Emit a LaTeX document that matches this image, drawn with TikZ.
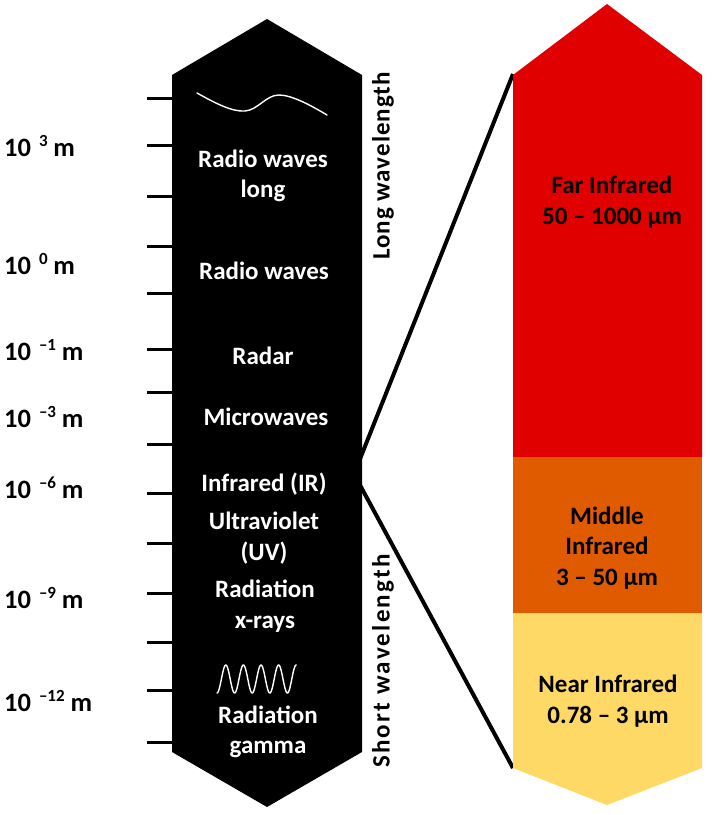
\documentclass[tikz,border=0pt]{standalone}
\usepackage{fontspec}
\setmainfont{Carlito}
\definecolor{farred}{RGB}{224,0,0}
\definecolor{midorange}{RGB}{224,91,0}
\definecolor{nearyellow}{RGB}{255,217,102}
\newcommand{\expo}[1]{\hspace{0.3em}\raisebox{0.36em}{\fontsize{17}{17}\selectfont #1}\hspace{0.22em}}
\begin{document}
\begin{tikzpicture}[x=1pt,y=-1pt,
  lbl/.style={font=\fontsize{25}{30.5}\selectfont\bfseries, inner sep=0pt, align=center},
  wtxt/.style={lbl, text=white},
  btxt/.style={lbl, text=black},
  sidetxt/.style={font=\fontsize{26.5}{30}\selectfont\bfseries, inner sep=0pt, text=black},
  vtxt/.style={font=\fontsize{25}{30}\selectfont\bfseries\addfontfeature{LetterSpace=#1}, inner sep=0pt, text=black, rotate=90},
  tick/.style={line width=3pt},
  conn/.style={line width=4pt},
  wave/.style={white, line width=1.4pt, line cap=round}]
\useasboundingbox (0,0) rectangle (712,815);
% connectors (behind the black band)
\coordinate (farTop) at (513,74);
\coordinate (nearBot) at (513,768);
\coordinate (irPt) at (354,474);
\draw[conn] (farTop) -- (irPt) -- (nearBot);
% black spectrum band
\fill[black] (172,75) -- (267,19) -- (362,75) -- (362,752) -- (267,807) -- (172,752) -- cycle;
% coloured infrared band
\fill[farred] (513,75) -- (607,4) -- (702,75) -- (702,457) -- (513,457) -- cycle;
\fill[midorange] (513,457) rectangle (702,613);
\fill[nearyellow] (513,613) -- (702,613) -- (702,768) -- (607,805) -- (513,768) -- cycle;
% ticks
\foreach \y in {98,145,196,246,293,349,392,444,493,543,593,642,690,742}
  \draw[tick] (147,\y) -- (172,\y);
% wavelength labels
\node[sidetxt, anchor=west] (l3) at (4,146) {10\expo{3}m};
\node[sidetxt, anchor=west] (l0) at (4,264) {10\expo{0}m};
\node[sidetxt, anchor=west] (lm1) at (4,350) {10\expo{–1}m};
\node[sidetxt, anchor=west] (lm3) at (4,417) {10\expo{–3}m};
\node[sidetxt, anchor=west] (lm6) at (4,488) {10\expo{–6}m};
\node[sidetxt, anchor=west] (lm9) at (4,598) {10\expo{–9}m};
\node[sidetxt, anchor=west] (lm12) at (4,701) {10\expo{–12}m};
% waves
\draw[wave] (197,93) .. controls (215,103) and (232,112) .. (245,111)
  .. controls (258,110) and (266,95) .. (279,95)
  .. controls (292,95) and (312,106) .. (327,115);
\draw[wave] plot[domain=0:1620, samples=220, smooth] ({217+\x/360*17.6}, {679+14*cos(\x)});
% band texts
\node[wtxt] (rwl) at (263,176) {Radio waves\\long};
\node[wtxt] (rw) at (264,271) {Radio waves};
\node[wtxt] (radar) at (263,356) {Radar};
\node[wtxt] (micro) at (266,417) {Microwaves};
\node[wtxt] (ir) at (264,484) {Infrared (IR)};
\node[wtxt] (uv) at (264,538) {Ultraviolet\\(UV)};
\node[wtxt] (xr) at (265,606) {Radiation\\x-rays};
\node[wtxt] (gam) at (268,732) {Radiation\\gamma};
% vertical labels
\node[vtxt=4] (longw) at (383,166) {Long wavelength};
\node[vtxt=9] (shortw) at (383,661) {Short wavelength};
% infrared texts
\node[btxt] (far) at (612,202) {Far Infrared\\50 – 1000 µm};
\node[btxt] (mid) at (607,548) {Middle\\Infrared\\3 – 50 µm};
\node[btxt] (near) at (608,701) {Near Infrared\\0.78 – 3 µm};
\end{tikzpicture}
\end{document}
